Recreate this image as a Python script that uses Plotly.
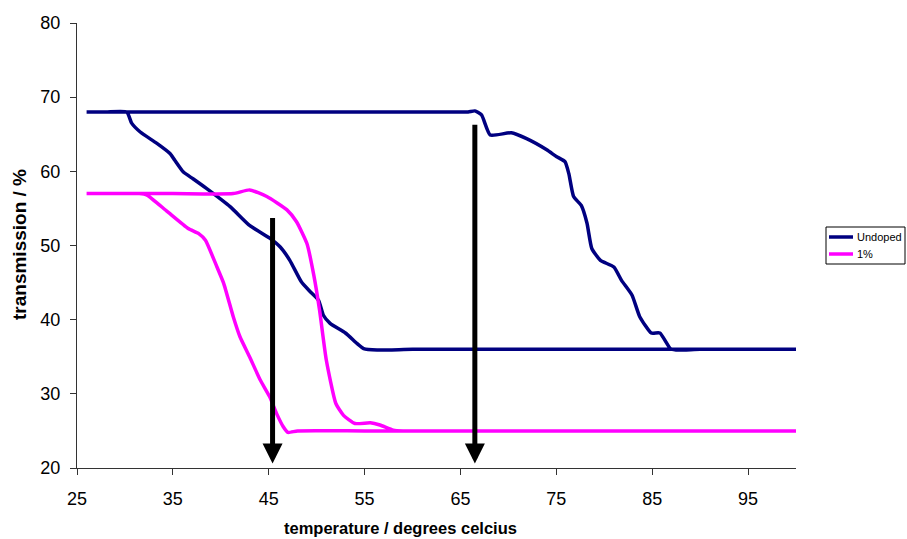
import plotly.graph_objects as go

# ---------------- data ----------------
undoped_heat_x = [26, 35, 45, 55, 64, 65.8, 66.5, 67.2, 68.1, 70.3, 71.9, 74.0, 75.0, 75.9, 76.3, 76.8,
                  77.6, 78.2, 78.7, 79.6, 81.0, 81.8, 82.9, 83.7, 84.9, 85.8, 86.9, 87.5, 90, 100]
undoped_heat_y = [68, 68, 68, 68, 68, 68.0, 68.15, 67.6, 64.9, 65.2, 64.4, 62.9, 62.0, 61.3, 59.7, 56.6,
                  55.4, 53.0, 49.6, 48.0, 47.1, 45.3, 43.3, 40.4, 38.2, 38.2, 36.1, 35.9, 36, 36]
undoped_cool_x = [100, 90, 80, 70, 60, 56.3, 54.9, 54.2, 53.0, 51.4, 50.7, 50.2, 49.3, 48.4, 47.2, 46.2,
                  45.1, 43.0, 41.0, 38.5, 37.1, 36.1, 35.2, 34.7, 33.3, 31.6, 30.7, 30.2, 28, 26]
undoped_cool_y = [36, 36, 36, 36, 36, 35.9, 36.1, 36.8, 38.2, 39.5, 40.6, 42.6, 43.8, 45.1, 48.0, 49.8,
                  51.0, 52.7, 55.2, 57.7, 59.0, 59.9, 61.5, 62.4, 63.8, 65.3, 66.5, 68.0, 68, 68]

doped_heat_x = [26, 35, 41.3, 43.0, 44.8, 46.9, 47.9, 49.0, 49.7, 50.3, 51.0, 52.0, 52.8, 54.0, 55.6,
                56.6, 58.0, 59.0, 70, 85, 100]
doped_heat_y = [57, 57, 57, 57.5, 56.6, 54.8, 53.2, 50.2, 46.0, 41.3, 34.6, 28.7, 27.1, 26.0, 26.1,
                25.8, 25.1, 25.0, 25, 25, 25]
doped_cool_x = [100, 85, 70, 55, 48, 47.0, 46.5, 45.8, 45.1, 44.1, 43.0, 42.0, 41.3, 40.3, 39.6, 38.4,
                37.7, 36.6, 34.4, 32.3, 31.5, 29, 26]
doped_cool_y = [25, 25, 25, 25, 25, 24.8, 25.6, 27.4, 29.6, 31.9, 35.0, 37.7, 40.4, 44.9, 47.1, 50.7,
                51.6, 52.3, 54.6, 56.8, 57, 57, 57]

series_names = ["Undoped", "1%"]
series_colors = ["#000080", "#FF00FF"]

arrow_x = [45.4, 66.5]
arrow_top = [53.9, 66.5]
arrow_tip = [20.6, 20.6]

x_ticks = [25, 35, 45, 55, 65, 75, 85, 95]
y_ticks = [20, 30, 40, 50, 60, 70, 80]

# ---------------- figure ----------------
FONT = "Arial, Liberation Sans, sans-serif"
W, H = 907, 539
L, R, T, B = 77, 796, 23, 468

fig = go.Figure()
series = [
    (undoped_heat_x + undoped_cool_x, undoped_heat_y + undoped_cool_y),
    (doped_heat_x + doped_cool_x, doped_heat_y + doped_cool_y),
]
for (xs, ys), name, col in zip(series, series_names, series_colors):
    fig.add_trace(go.Scatter(x=xs, y=ys, mode="lines", name=name, showlegend=False,
                             line=dict(color=col, width=3.5, shape="spline", smoothing=0.5)))

for ax_, top, tip in zip(arrow_x, arrow_top, arrow_tip):
    fig.add_annotation(x=ax_, y=tip, ax=ax_, ay=top, xref="x", yref="y", axref="x", ayref="y",
                       text="", showarrow=True, arrowhead=2, arrowsize=0.8, arrowwidth=5,
                       arrowcolor="black")

def px2paper_x(px):
    return (px - L) / (R - L)

def px2paper_y(py):
    return (B - py) / (B - T)

# manual legend box (as in the reference)
fig.add_shape(type="rect", xref="paper", yref="paper",
              x0=px2paper_x(826), x1=px2paper_x(905), y0=px2paper_y(264), y1=px2paper_y(227),
              line=dict(color="black", width=1), fillcolor="white")
for i, (name, col) in enumerate(zip(series_names, series_colors)):
    yy = 237 + i * 17
    fig.add_shape(type="line", xref="paper", yref="paper",
                  x0=px2paper_x(829), x1=px2paper_x(853), y0=px2paper_y(yy), y1=px2paper_y(yy),
                  line=dict(color=col, width=3.5))
    fig.add_annotation(xref="paper", yref="paper", x=px2paper_x(855), y=px2paper_y(yy),
                       text=name, showarrow=False, xanchor="left", yanchor="middle",
                       font=dict(family=FONT, size=11, color="black"))

# axis titles
fig.add_annotation(xref="paper", yref="paper", x=px2paper_x(400), y=px2paper_y(528),
                   text="<b>temperature / degrees celcius</b>", showarrow=False,
                   xanchor="center", yanchor="middle", font=dict(family=FONT, size=16.5, color="black"))
fig.add_annotation(xref="paper", yref="paper", x=px2paper_x(20), y=px2paper_y(245),
                   text="<b>transmission / %</b>", showarrow=False, textangle=-90,
                   xanchor="center", yanchor="middle", font=dict(family=FONT, size=19, color="black"))

fig.update_layout(
    width=W, height=H,
    margin=dict(l=L, r=W - R, t=T, b=H - B),
    paper_bgcolor="white", plot_bgcolor="white",
    font=dict(family=FONT, color="black"),
    showlegend=False,
)
fig.update_xaxes(range=[25, 100], tickvals=x_ticks, ticks="outside", ticklen=6, tickcolor="#333",
                 showline=True, linecolor="#333", linewidth=1, showgrid=False, zeroline=False,
                 tickfont=dict(family=FONT, size=18, color="black"), ticklabelstandoff=8)
fig.update_yaxes(range=[20, 80], tickvals=y_ticks, ticks="outside", ticklen=6, tickcolor="#333",
                 showline=True, linecolor="#333", linewidth=1, showgrid=False, zeroline=False,
                 tickfont=dict(family=FONT, size=18, color="black"), ticklabelstandoff=6)

fig.write_html("out.html", config={"displayModeBar": False},
               post_script="document.body.style.margin='0';document.body.style.overflow='hidden';")
